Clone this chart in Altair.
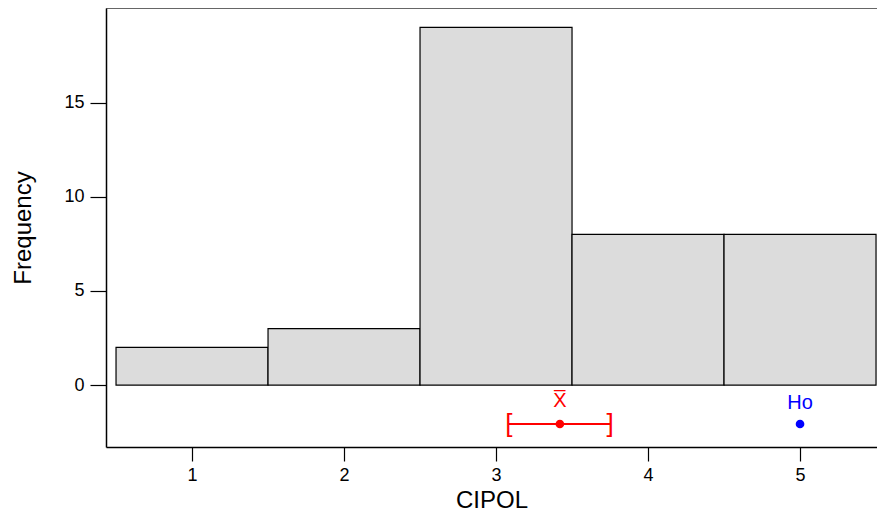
import altair as alt
import pandas as pd

# ---- data ----
bin_centers = [1, 2, 3, 4, 5]
counts = [2, 3, 19, 8, 8]
x_ticks = [1, 2, 3, 4, 5]
y_ticks = [0, 5, 10, 15]
mean_value = 3.42
ci_low = 3.085
ci_high = 3.75
h0_value = 5
marker_y = -2.07
label_names = ["X\u0305", "Ho"]
label_x = [mean_value, h0_value]
label_y = [-0.85, -0.96]
label_colors = ["#ff0000", "#0000ff"]

W = 771
H = 439
x_dom = [0.434, 0.434 + W / 152.0]
y_dom = [-3.29, 20.03]
FONT = "Liberation Sans"

bars = pd.DataFrame({"center": bin_centers, "count": counts})
bars["left"] = bars["center"] - 0.5
bars["right"] = bars["center"] + 0.5

xscale = alt.Scale(domain=x_dom, nice=False, zero=False)
yscale = alt.Scale(domain=y_dom, nice=False, zero=False)

hist = alt.Chart(bars).mark_rect(fill="#dcdcdc", stroke="black", strokeWidth=1.2).encode(
    x=alt.X("left:Q", scale=xscale,
            axis=alt.Axis(values=x_ticks, title="CIPOL", tickSize=14, labelPadding=5,
                          titleY=53, titleBaseline="middle", format="d")),
    x2="right:Q",
    y=alt.Y("count:Q", scale=yscale,
            axis=alt.Axis(values=y_ticks, title="Frequency", tickSize=16, labelPadding=6,
                          titleX=-83, titleY=H / 2, titleBaseline="middle",
                          titleAlign="center", format="d")),
    y2=alt.datum(0),
)

mean_df = pd.DataFrame({"mean": [mean_value], "lo": [ci_low], "hi": [ci_high], "y": [marker_y]})
ci_line = alt.Chart(mean_df).mark_rule(color="#ff0000", strokeWidth=2).encode(
    x=alt.X("lo:Q", scale=xscale), x2="hi:Q", y=alt.Y("y:Q", scale=yscale))
mean_pt = alt.Chart(mean_df).mark_point(filled=True, color="#ff0000", size=75, opacity=1).encode(
    x=alt.X("mean:Q", scale=xscale), y=alt.Y("y:Q", scale=yscale))

br_df = pd.DataFrame({"x": [ci_low, ci_high], "y": [marker_y, marker_y], "t": ["[", "]"]})
brackets = alt.Chart(br_df).mark_text(color="#ff0000", fontSize=26, font=FONT,
                                      baseline="middle", align="center").encode(
    x=alt.X("x:Q", scale=xscale), y=alt.Y("y:Q", scale=yscale), text="t:N")

h0_df = pd.DataFrame({"x": [h0_value], "y": [marker_y]})
h0_pt = alt.Chart(h0_df).mark_point(filled=True, color="#0000ff", size=75, opacity=1).encode(
    x=alt.X("x:Q", scale=xscale), y=alt.Y("y:Q", scale=yscale))

lab_df = pd.DataFrame({"x": label_x, "y": label_y, "t": label_names, "c": label_colors})
labels = alt.Chart(lab_df).mark_text(fontSize=20, font=FONT, baseline="middle", align="center").encode(
    x=alt.X("x:Q", scale=xscale), y=alt.Y("y:Q", scale=yscale), text="t:N",
    color=alt.Color("c:N", scale=None))

top_df = pd.DataFrame({"k": [0]})
top_line = alt.Chart(top_df).mark_rule(color="#333333", strokeWidth=1.5).encode(
    x=alt.value(0), x2=alt.value(W), y=alt.value(0))

chart = alt.layer(hist, ci_line, brackets, mean_pt, h0_pt, labels, top_line).properties(
    width=W, height=H,
    autosize=alt.AutoSizeParams(type="none"),
    padding={"left": 98, "top": 0, "right": 0, "bottom": 66},
).configure_view(stroke=None).configure_axis(
    grid=False, domainColor="black", domainWidth=1.5, tickColor="black", tickWidth=1.2,
    labelFont=FONT, labelFontSize=18, labelColor="black",
    titleFont=FONT, titleFontSize=24, titleFontWeight="normal", titleColor="black",
)

chart.save("out.html", embed_options={"renderer": "svg", "actions": False})
